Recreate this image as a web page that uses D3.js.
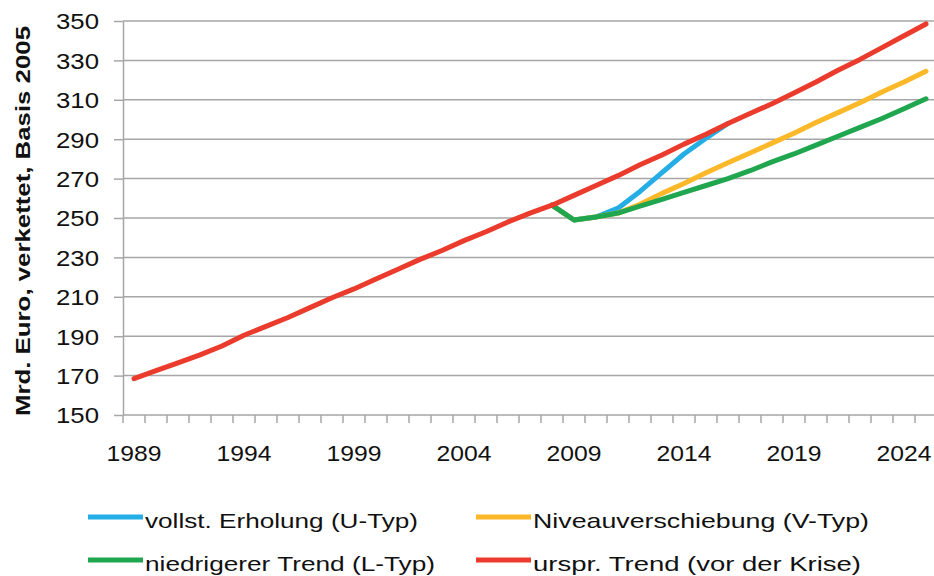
<!DOCTYPE html>
<html>
<head>
<meta charset="utf-8">
<script src="https://cdn.jsdelivr.net/npm/d3@7"></script>
<style>
	body { margin: 0; background: #fff; }
	.grid line { stroke: #a6a6a6; stroke-width: 1.5px; }
	.axis path, .axis line { stroke: #a6a6a6; stroke-width: 1.5px; }
	.axis text { font-family: "Liberation Sans", Arial, sans-serif; font-size: 22px; fill: #111; }
	.series { fill: none; stroke-width: 5px; stroke-linejoin: round; stroke-linecap: round; }
	.legend text { font-family: "Liberation Sans", Arial, sans-serif; font-size: 21px; fill: #111; }
</style>
</head>
<body>
<div id="graph"></div>
<script>
	'use strict'

	let years = ['1989','1990','1991','1992','1993','1994','1995','1996','1997','1998',
		'1999','2000','2001','2002','2003','2004','2005','2006','2007','2008',
		'2009','2010','2011','2012','2013','2014','2015','2016','2017','2018',
		'2019','2020','2021','2022','2023','2024','2025']

	let yearLabels = ['1989','1994','1999','2004','2009','2014','2019','2024']
	let yTicks = [150,170,190,210,230,250,270,290,310,330,350]

	// vollst. Erholung (U-Typ)
	let uTyp = [null,null,null,null,null,null,null,null,null,null,
		null,null,null,null,null,null,null,null,null,256.5,
		249,250.5,255,263.5,273,282.5,290.5,298,null,null,
		null,null,null,null,null,null,null]

	// Niveauverschiebung (V-Typ)
	let vTyp = [null,null,null,null,null,null,null,null,null,null,
		null,null,null,null,null,null,null,null,null,256.5,
		249,250.5,252.5,257,262.5,267.5,273,278,283,288,
		293,298.5,303.5,308.5,314,319,324.5]

	// niedrigerer Trend (L-Typ)
	let lTyp = [null,null,null,null,null,null,null,null,null,null,
		null,null,null,null,null,null,null,null,null,256.5,
		249,250.5,252.5,256,259.5,263,266.5,270,274,278.5,
		282.5,287,291.5,296,300.5,305.5,310.5]

	// urspr. Trend (vor der Krise)
	let trend = [168.5,172.5,176.5,180.5,185,190.5,195,199.5,204.5,209.5,
		214,219,224,229,233.5,238.5,243,248,252.5,256.5,
		261.5,266.5,271.5,277,282,287.5,292.5,298,303,308,
		313.5,319,325,330.5,336.5,342.5,348.5]

	let seriesNames = ['vollst. Erholung (U-Typ)', 'Niveauverschiebung (V-Typ)',
		'niedrigerer Trend (L-Typ)', 'urspr. Trend (vor der Krise)']
	let seriesColors = ['#25aee6', '#fbb829', '#1fa64e', '#ea3b2c']
	let seriesData = [uTyp, vTyp, lTyp, trend]

	let w = 934
	let h = 576
	let plot = {left: 123, right: 937, top: 21, bottom: 415}

	let svg = d3.select('#graph')
		.append('svg')
		.attr('width', w)
		.attr('height', h)

	let x = d3.scaleBand()
		.domain(years)
		.range([plot.left, plot.right])

	let y = d3.scaleLinear()
		.domain([150, 350])
		.range([plot.bottom, plot.top])

	// horizontal gridlines
	svg.append('g').attr('class', 'grid')
		.selectAll('line')
		.data(yTicks.slice(1))
		.enter().append('line')
		.attr('x1', plot.left)
		.attr('x2', plot.right)
		.attr('y1', function(d){ return y(d) })
		.attr('y2', function(d){ return y(d) })

	let yAxis = svg.append('g')
		.attr('class', 'axis')
		.attr('transform', 'translate(' + plot.left + ',0)')
		.call(d3.axisLeft(y).tickValues(yTicks).tickSize(9).tickPadding(15).tickSizeOuter(0))
	yAxis.selectAll('text').attr('textLength', 43).attr('lengthAdjust', 'spacingAndGlyphs').attr('dy', '0.36em')

	// x axis: ticks on category boundaries, labels every five years
	let xAxis = svg.append('g')
		.attr('class', 'axis')
		.attr('transform', 'translate(0,' + plot.bottom + ')')
	xAxis.append('line')
		.attr('x1', plot.left).attr('x2', plot.right)
	xAxis.selectAll('.tick')
		.data(years)
		.enter().append('line')
		.attr('x1', function(d){ return x(d) })
		.attr('x2', function(d){ return x(d) })
		.attr('y1', 0)
		.attr('y2', 8)
	xAxis.selectAll('text')
		.data(yearLabels)
		.enter().append('text')
		.attr('x', function(d){ return x(d) + x.bandwidth() / 2 })
		.attr('y', 46)
		.attr('text-anchor', 'middle')
		.attr('textLength', 55)
		.attr('lengthAdjust', 'spacingAndGlyphs')
		.text(function(d){ return d })

	svg.append('text')
		.attr('transform', 'translate(30,221) rotate(-90)')
		.attr('text-anchor', 'middle')
		.attr('textLength', 390)
		.attr('lengthAdjust', 'spacingAndGlyphs')
		.style('font-family', '"Liberation Sans", Arial, sans-serif')
		.style('font-weight', 'bold')
		.style('font-size', '21px')
		.style('fill', '#111')
		.text('Mrd. Euro, verkettet, Basis 2005')

	let line = d3.line()
		.defined(function(d){ return d != null })
		.x(function(d, i){ return x(years[i]) + x.bandwidth() / 2 })
		.y(function(d){ return y(d) })

	svg.append('g')
		.selectAll('path')
		.data(seriesData)
		.enter().append('path')
		.attr('class', 'series')
		.attr('stroke', function(d, i){ return seriesColors[i] })
		.attr('d', line)

	// legend
	let legendPos = [
		{x: 88, y: 517, len: 273},
		{x: 476, y: 517, len: 336},
		{x: 88, y: 560, len: 290},
		{x: 476, y: 560, len: 328}
	]
	let legend = svg.append('g').attr('class', 'legend')
	let items = legend.selectAll('g')
		.data(seriesNames)
		.enter().append('g')
		.attr('transform', function(d, i){ return 'translate(' + legendPos[i].x + ',' + legendPos[i].y + ')' })
	items.append('line')
		.attr('x1', 0).attr('x2', 55)
		.attr('stroke', function(d, i){ return seriesColors[i] })
		.attr('stroke-width', 5)
	items.append('text')
		.attr('x', 57)
		.attr('y', 11)
		.attr('textLength', function(d, i){ return legendPos[i].len })
		.attr('lengthAdjust', 'spacingAndGlyphs')
		.text(function(d){ return d })
</script>
</body>
</html>
